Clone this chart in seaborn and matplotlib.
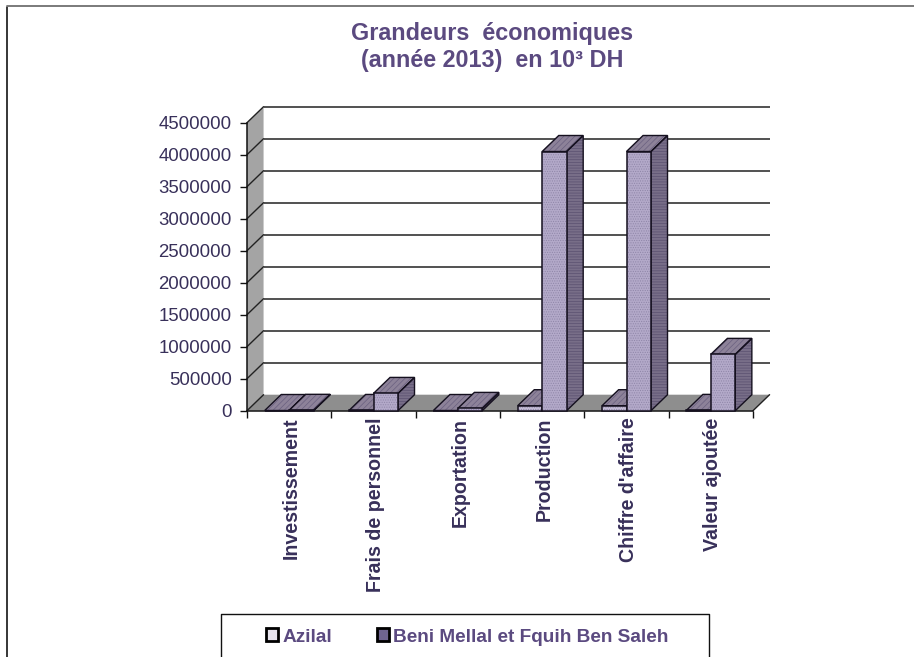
import pandas as pd
import numpy as np
import matplotlib
matplotlib.use('Agg')
import matplotlib.pyplot as plt
import matplotlib.transforms as mtrans
import seaborn as sns
from matplotlib.lines import Line2D
from matplotlib.patches import Patch, Polygon, Rectangle

categories = ['Investissement', 'Frais de personnel', 'Exportation', 'Production', "Chiffre d'affaire", 'Valeur ajoutée']
azilal = [3000, 4000, 3000, 78000, 78000, 5000]
beni_mellal = [6000, 270000, 36000, 4050000, 4050000, 880000]
series_names = ['Azilal', 'Beni Mellal et Fquih Ben Saleh']
y_ticks = [0, 500000, 1000000, 1500000, 2000000, 2500000, 3000000, 3500000, 4000000, 4500000]

W, H = 914, 657
TEXT = '#5b4a80'
TICK_TEXT = '#38305a'

sns.set_theme(style='white')
plt.rcParams['font.family'] = ['Liberation Sans', 'DejaVu Sans']
plt.rcParams['hatch.linewidth'] = 0.5

df = pd.DataFrame({'cat': categories * 2,
                   'serie': [series_names[0]] * 6 + [series_names[1]] * 6,
                   'val': azilal + beni_mellal})

fig = plt.figure(figsize=(W / 100, H / 100), dpi=100)
# front plane of the fake 3d box, in pixels from the picture
left, right, top, bottom = 247, 753, 122.7, 410.7
ax = fig.add_axes([left / W, 1 - bottom / H, (right - left) / W, (bottom - top) / H])
ax.patch.set_alpha(0)

sns.barplot(data=df, x='cat', y='val', hue='serie', order=categories, hue_order=series_names,
            width=0.58, gap=0, legend=False, ax=ax)
ax.set_xlim(-0.5, 5.5)
ax.set_ylim(0, 4500000)

# depth of the box in data units (16 px in both directions)
dx = 16.5 / 84
dy = 250000
xa, xb = -0.5, 5.5
ymax = y_ticks[-1]

ax.add_patch(Polygon([(xa, 0), (xa + dx, dy), (xa + dx, ymax + dy), (xa, ymax)], closed=True,
                     fc='#a4a4a4', ec='none', zorder=0.5, clip_on=False))
ax.add_patch(Polygon([(xa, 0), (xa + dx, dy), (xb + dx, dy), (xb, 0)], closed=True,
                     fc='#8e8e8e', ec='none', zorder=0.6, clip_on=False))
for t in y_ticks[1:] + [0]:
    if t > 0:
        ax.plot([xa + dx, xb + dx], [t + dy, t + dy], color='#222222', lw=1.1, zorder=0.8, clip_on=False,
                solid_capstyle='butt')
    ax.plot([xa, xa + dx], [t, t + dy], color='#222222', lw=1.0, zorder=0.9, clip_on=False)
ax.plot([xb, xb + dx], [0, dy], color='#222222', lw=1.0, zorder=0.9, clip_on=False)

# front faces come from seaborn, top and side are added on each bar
z = 2
for i, cont in enumerate(ax.containers):
    front = '#b3a9c9' if i == 1 else '#c3bbd4'
    for p in cont.patches:
        x0, y0 = p.get_x(), p.get_y()
        w, h = p.get_width(), p.get_height()
        ax.add_patch(Polygon([(x0, h), (x0 + dx, h + dy), (x0 + w + dx, h + dy), (x0 + w, h)], closed=True,
                             fc='#8d8299', ec='#6a6080', hatch='//////', lw=0, zorder=z, clip_on=False))
        ax.add_patch(Polygon([(x0, h), (x0 + dx, h + dy), (x0 + w + dx, h + dy), (x0 + w, h)], closed=True,
                             fc='none', ec='#15101f', lw=1.0, zorder=z + 0.1, clip_on=False))
        ax.add_patch(Polygon([(x0 + w, 0), (x0 + w + dx, dy), (x0 + w + dx, h + dy), (x0 + w, h)], closed=True,
                             fc='#786e88', ec='#5a5070', hatch='------', lw=0, zorder=z, clip_on=False))
        ax.add_patch(Polygon([(x0 + w, 0), (x0 + w + dx, dy), (x0 + w + dx, h + dy), (x0 + w, h)], closed=True,
                             fc='none', ec='#15101f', lw=1.0, zorder=z + 0.1, clip_on=False))
        p.set_facecolor(front)
        p.set_edgecolor('#8f86a8')
        p.set_hatch('.......')
        p.set_linewidth(0)
        p.set_zorder(z + 0.2)
        ax.add_patch(Rectangle((x0, y0), w, h, fc='none', ec='#15101f', lw=1.1, zorder=z + 0.3, clip_on=False))
        z += 1

for s in ['top', 'right']:
    ax.spines[s].set_visible(False)
for s in ['left', 'bottom']:
    ax.spines[s].set_visible(True)
    ax.spines[s].set_color('#111111')
    ax.spines[s].set_linewidth(1.1)
    ax.spines[s].set_zorder(1)

ax.set_xlabel('')
ax.set_ylabel('')
ax.set_yticks(y_ticks)
ax.set_yticklabels([str(v) for v in y_ticks], fontsize=13.4, color=TICK_TEXT)
ax.set_xticks(range(6))
ax.set_xticklabels(categories, rotation=90, fontsize=14.1, fontweight='bold', color=TICK_TEXT, va='top', ha='center')
ax.set_xticks(np.arange(-0.5, 6, 1), minor=True)
ax.tick_params(axis='x', which='major', length=0, pad=5)
ax.tick_params(axis='x', which='minor', length=5, width=1, color='#111111', bottom=True)
ax.tick_params(axis='y', length=5, width=1, color='#111111', pad=6, left=True)
# labels sit a little right of the category centre
for lab in ax.get_xticklabels():
    lab.set_transform(lab.get_transform() + mtrans.Affine2D().translate(2, 0))

fig.text(492 / W, 1 - 47 / H, 'Grandeurs  économiques\n(année 2013)  en 10³ DH', ha='center', va='center',
         fontsize=16.8, fontweight='bold', color=TEXT, linespacing=1.2)

# outer frame, cut by the picture on the right and at the bottom
fig.add_artist(Line2D([7.5 / W, 7.5 / W], [0, 1 - 6.5 / H], color='black', lw=1.1))
fig.add_artist(Line2D([7.5 / W, 1], [1 - 6 / H, 1 - 6 / H], color='#707070', lw=1.3))

# legend box, also cut
fig.add_artist(Line2D([220.5 / W, 220.5 / W, 708.5 / W, 708.5 / W], [0, 1 - 614 / H, 1 - 614 / H, 0],
                      color='#111111', lw=1.0))
handles = [Patch(fc='#e8e4ee', ec='black', lw=2), Patch(fc='#6f6490', ec='black', lw=2)]
leg = fig.legend(handles, series_names, loc='center', bbox_to_anchor=(467 / W, 1 - 637 / H), ncol=2, frameon=False,
                 prop={'size': 13.7, 'weight': 'bold'}, handlelength=0.65, handleheight=0.65,
                 handletextpad=0.2, columnspacing=2.35, labelcolor=TEXT)

fig.savefig('out.png', dpi=100)
